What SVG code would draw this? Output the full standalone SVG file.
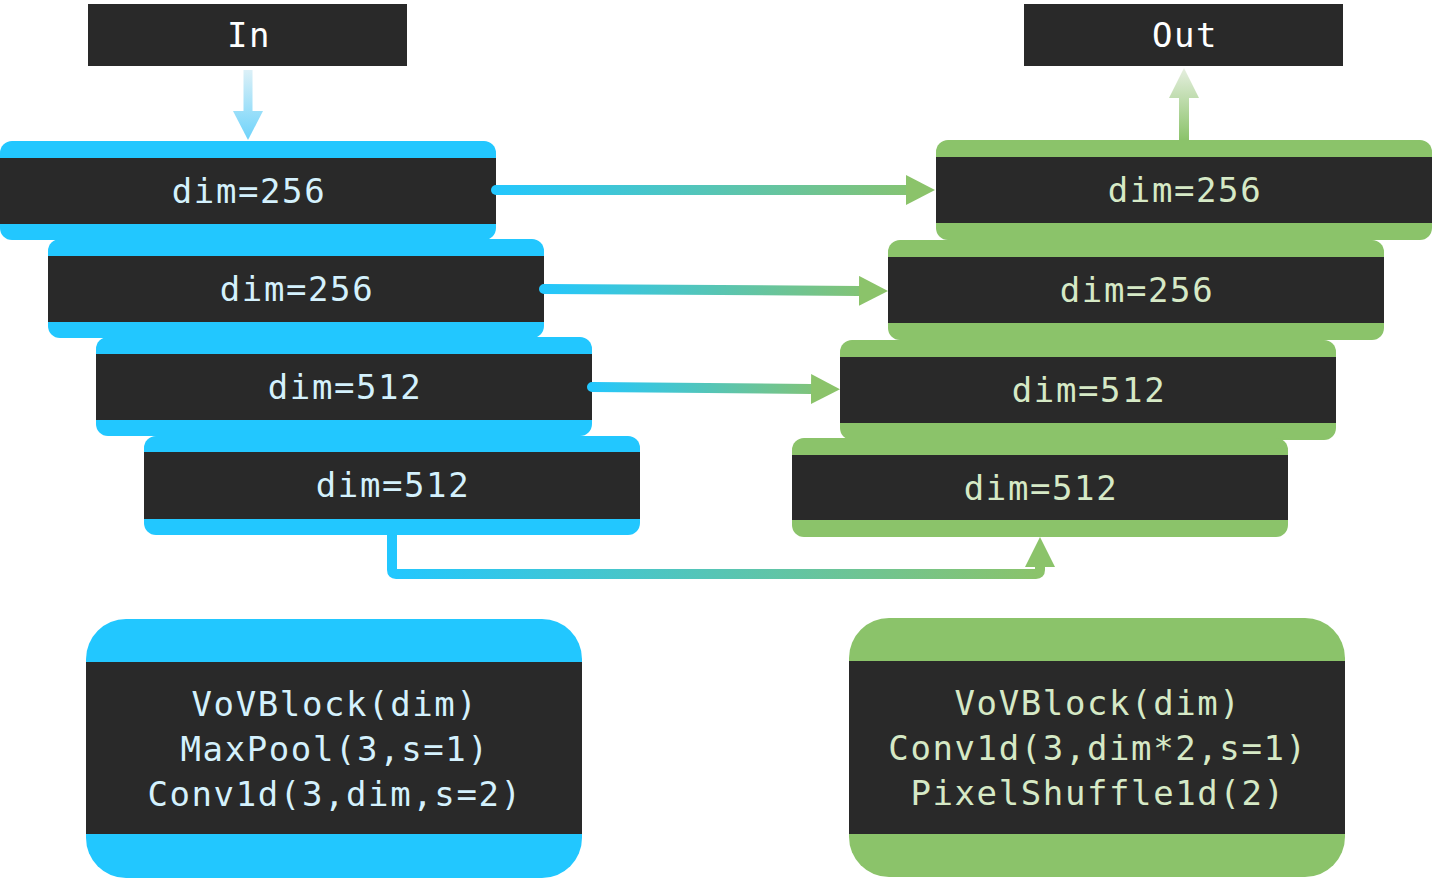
<svg xmlns="http://www.w3.org/2000/svg" width="1432" height="878" viewBox="0 0 1432 878">
<style>
.dark{fill:#292929}
.blue{fill:#22c7ff}
.green{fill:#8bc36a}
text{font-family:"DejaVu Sans Mono","Liberation Mono",monospace;font-size:34px;letter-spacing:1.6px;text-anchor:middle}
.tw{fill:#ffffff}
.tb{fill:#d4f1fd}
.tg{fill:#d6e9c6}
.conn{fill:none;stroke-width:10}
</style>
<defs>
<linearGradient id="g1" gradientUnits="userSpaceOnUse" x1="492" y1="0" x2="935" y2="0"><stop offset="0" stop-color="#22c7ff"/><stop offset="1" stop-color="#8bc36a"/></linearGradient>
<linearGradient id="g2" gradientUnits="userSpaceOnUse" x1="540" y1="0" x2="888" y2="0"><stop offset="0" stop-color="#22c7ff"/><stop offset="1" stop-color="#8bc36a"/></linearGradient>
<linearGradient id="g3" gradientUnits="userSpaceOnUse" x1="588" y1="0" x2="840" y2="0"><stop offset="0" stop-color="#22c7ff"/><stop offset="1" stop-color="#8bc36a"/></linearGradient>
<linearGradient id="g4" gradientUnits="userSpaceOnUse" x1="392" y1="0" x2="1040" y2="0"><stop offset="0" stop-color="#22c7ff"/><stop offset="1" stop-color="#8bc36a"/></linearGradient>
<linearGradient id="gin" gradientUnits="userSpaceOnUse" x1="0" y1="70" x2="0" y2="140"><stop offset="0" stop-color="#dcf0f7"/><stop offset="1" stop-color="#6dd3fb"/></linearGradient>
<linearGradient id="gout" gradientUnits="userSpaceOnUse" x1="0" y1="68" x2="0" y2="140"><stop offset="0" stop-color="#e6efe0"/><stop offset="1" stop-color="#8bc36a"/></linearGradient>
<marker id="ah" markerUnits="userSpaceOnUse" markerWidth="30" markerHeight="30" refX="0" refY="15" orient="auto" viewBox="0 0 30 30"><path d="M0,0 L29,15 L0,30 z" fill="#8bc36a"/></marker>
</defs>

<g id="in"><rect class="dark" x="88" y="4" width="319" height="62"/><text class="tw" x="249" y="47">In</text></g>
<g id="out"><rect class="dark" x="1024" y="4" width="319" height="62"/><text class="tw" x="1185" y="47">Out</text></g>

<g id="enc1"><rect class="blue" x="0" y="141" width="496" height="99" rx="12"/><rect class="dark" x="0" y="158" width="496" height="66"/><text class="tb" x="249" y="203">dim=256</text></g>
<g id="enc2"><rect class="blue" x="48" y="239" width="496" height="99" rx="12"/><rect class="dark" x="48" y="256" width="496" height="66"/><text class="tb" x="297" y="301">dim=256</text></g>
<g id="enc3"><rect class="blue" x="96" y="337" width="496" height="99" rx="12"/><rect class="dark" x="96" y="354" width="496" height="66"/><text class="tb" x="345" y="399">dim=512</text></g>
<g id="enc4"><rect class="blue" x="144" y="436" width="496" height="99" rx="12"/><rect class="dark" x="144" y="452" width="496" height="67"/><text class="tb" x="393" y="497">dim=512</text></g>

<g id="dec1"><rect class="green" x="936" y="140" width="496" height="100" rx="12"/><rect class="dark" x="936" y="157" width="496" height="66"/><text class="tg" x="1185" y="202">dim=256</text></g>
<g id="dec2"><rect class="green" x="888" y="240" width="496" height="100" rx="12"/><rect class="dark" x="888" y="257" width="496" height="66"/><text class="tg" x="1137" y="302">dim=256</text></g>
<g id="dec3"><rect class="green" x="840" y="340" width="496" height="100" rx="12"/><rect class="dark" x="840" y="357" width="496" height="66"/><text class="tg" x="1089" y="402">dim=512</text></g>
<g id="dec4"><rect class="green" x="792" y="438" width="496" height="99" rx="12"/><rect class="dark" x="792" y="455" width="496" height="65"/><text class="tg" x="1041" y="500">dim=512</text></g>

<g id="enc-legend"><rect class="blue" x="86" y="619" width="496" height="259" rx="40"/><rect class="dark" x="86" y="662" width="496" height="172"/>
<text class="tb" x="335" y="716">VoVBlock(dim)</text><text class="tb" x="335" y="761">MaxPool(3,s=1)</text><text class="tb" x="335" y="806">Conv1d(3,dim,s=2)</text></g>
<g id="dec-legend"><rect class="green" x="849" y="618" width="496" height="259" rx="40"/><rect class="dark" x="849" y="661" width="496" height="173"/>
<text class="tg" x="1098" y="715">VoVBlock(dim)</text><text class="tg" x="1098" y="760">Conv1d(3,dim*2,s=1)</text><text class="tg" x="1098" y="805">PixelShuffle1d(2)</text></g>

<g id="connectors">
<rect x="243.5" y="70" width="9" height="42" fill="url(#gin)"/>
<polygon points="233,111 263,111 248,140" fill="url(#gin)"/>
<rect x="1179" y="97" width="10" height="43" fill="url(#gout)"/>
<polygon points="1169,98 1199,98 1184,68" fill="url(#gout)"/>
<path class="conn" d="M496,190 L906,190" stroke="url(#g1)" stroke-linecap="round" marker-end="url(#ah)"/>
<path class="conn" d="M544,289 L859,290.9" stroke="url(#g2)" stroke-linecap="round" marker-end="url(#ah)"/>
<path class="conn" d="M592,387 L811,389" stroke="url(#g3)" stroke-linecap="round" marker-end="url(#ah)"/>
<path class="conn" d="M392,530 L392,570 Q392,574 396,574 L1036,574 Q1040,574 1040,570 L1040,562" stroke="url(#g4)"/>
<polygon points="1025,567 1055,567 1040,537" fill="#8bc36a"/>
</g>
</svg>
